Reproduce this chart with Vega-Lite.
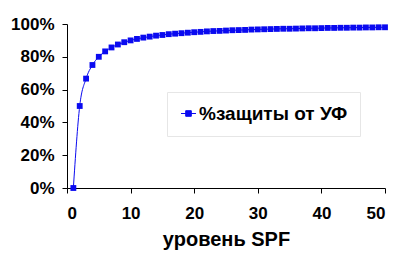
{
  "$schema": "https://vega.github.io/schema/vega-lite/v6.json",
  "width": 318,
  "height": 164,
  "autosize": "none",
  "padding": {"left": 67, "top": 24, "right": 22, "bottom": 78},
  "background": "white",
  "config": {"view": {"stroke": null}, "font": "Liberation Sans"},
  "data": {"values": [
    {"spf":1,"p":0,"s":"%защиты от УФ"},{"spf":2,"p":0.5,"s":"%защиты от УФ"},{"spf":3,"p":0.667,"s":"%защиты от УФ"},{"spf":4,"p":0.75,"s":"%защиты от УФ"},{"spf":5,"p":0.8,"s":"%защиты от УФ"},
    {"spf":6,"p":0.833,"s":"%защиты от УФ"},{"spf":7,"p":0.857,"s":"%защиты от УФ"},{"spf":8,"p":0.875,"s":"%защиты от УФ"},{"spf":9,"p":0.889,"s":"%защиты от УФ"},{"spf":10,"p":0.9,"s":"%защиты от УФ"},
    {"spf":11,"p":0.909,"s":"%защиты от УФ"},{"spf":12,"p":0.917,"s":"%защиты от УФ"},{"spf":13,"p":0.923,"s":"%защиты от УФ"},{"spf":14,"p":0.929,"s":"%защиты от УФ"},{"spf":15,"p":0.933,"s":"%защиты от УФ"},
    {"spf":16,"p":0.938,"s":"%защиты от УФ"},{"spf":17,"p":0.941,"s":"%защиты от УФ"},{"spf":18,"p":0.944,"s":"%защиты от УФ"},{"spf":19,"p":0.947,"s":"%защиты от УФ"},{"spf":20,"p":0.95,"s":"%защиты от УФ"},
    {"spf":21,"p":0.952,"s":"%защиты от УФ"},{"spf":22,"p":0.955,"s":"%защиты от УФ"},{"spf":23,"p":0.957,"s":"%защиты от УФ"},{"spf":24,"p":0.958,"s":"%защиты от УФ"},{"spf":25,"p":0.96,"s":"%защиты от УФ"},
    {"spf":26,"p":0.962,"s":"%защиты от УФ"},{"spf":27,"p":0.963,"s":"%защиты от УФ"},{"spf":28,"p":0.964,"s":"%защиты от УФ"},{"spf":29,"p":0.966,"s":"%защиты от УФ"},{"spf":30,"p":0.967,"s":"%защиты от УФ"},
    {"spf":31,"p":0.968,"s":"%защиты от УФ"},{"spf":32,"p":0.969,"s":"%защиты от УФ"},{"spf":33,"p":0.97,"s":"%защиты от УФ"},{"spf":34,"p":0.971,"s":"%защиты от УФ"},{"spf":35,"p":0.971,"s":"%защиты от УФ"},
    {"spf":36,"p":0.972,"s":"%защиты от УФ"},{"spf":37,"p":0.973,"s":"%защиты от УФ"},{"spf":38,"p":0.974,"s":"%защиты от УФ"},{"spf":39,"p":0.974,"s":"%защиты от УФ"},{"spf":40,"p":0.975,"s":"%защиты от УФ"},
    {"spf":41,"p":0.976,"s":"%защиты от УФ"},{"spf":42,"p":0.976,"s":"%защиты от УФ"},{"spf":43,"p":0.977,"s":"%защиты от УФ"},{"spf":44,"p":0.977,"s":"%защиты от УФ"},{"spf":45,"p":0.978,"s":"%защиты от УФ"},
    {"spf":46,"p":0.978,"s":"%защиты от УФ"},{"spf":47,"p":0.979,"s":"%защиты от УФ"},{"spf":48,"p":0.979,"s":"%защиты от УФ"},{"spf":49,"p":0.98,"s":"%защиты от УФ"},{"spf":50,"p":0.98,"s":"%защиты от УФ"}
  ]},
  "mark": {"type": "line", "strokeWidth": 1, "interpolate": "monotone", "point": {"shape": "square", "size": 34, "filled": true}},
  "encoding": {
    "x": {"field": "spf", "type": "quantitative",
      "scale": {"domain": [0, 50], "nice": false},
      "axis": {"values": [0,10,20,30,40,50], "grid": false, "domainColor": "black", "tickColor": "black", "tickSize": 5,
        "labelFont": "Liberation Sans", "labelFontWeight": "bold", "labelFontSize": 17, "labelColor": "black", "labelPadding": 12,
        "title": "уровень SPF", "titleFont": "Liberation Sans", "titleFontSize": 20, "titleFontWeight": "bold", "titleColor": "black", "titlePadding": 8}},
    "y": {"field": "p", "type": "quantitative",
      "scale": {"domain": [0, 1], "nice": false},
      "axis": {"values": [0,0.2,0.4,0.6,0.8,1], "format": ".0%", "grid": false, "domainColor": "black", "tickColor": "black", "tickSize": 5,
        "labelFont": "Liberation Sans", "labelFontWeight": "bold", "labelFontSize": 17, "labelColor": "black", "labelPadding": 8, "title": null}},
    "color": {"field": "s", "type": "nominal", "scale": {"range": ["#0a0af0"]},
      "legend": {"title": null, "orient": "none", "legendX": 100, "legendY": 68,
        "symbolType": "M-1.2,0H1.2M-0.45,-0.45H0.45V0.45H-0.45Z", "symbolSize": 156, "symbolStrokeWidth": 1,
        "symbolFillColor": "#0a0af0", "symbolStrokeColor": "#0a0af0",
        "labelFont": "Liberation Sans", "labelFontSize": 19, "labelFontWeight": "bold", "labelColor": "black",
        "padding": 12, "strokeColor": "#e6e6e6", "fillColor": "white", "labelOffset": 1}}
  }
}
